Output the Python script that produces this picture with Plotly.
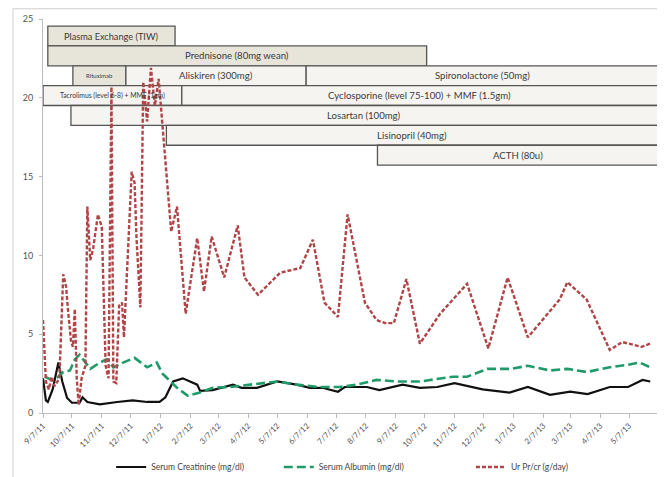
import pandas as pd
import plotly.graph_objects as go

# ---------------- data ----------------
creat_dates = ["2011-09-07", "2011-09-10", "2011-09-12", "2011-09-17", "2011-09-23", "2011-09-27",
               "2011-10-02", "2011-10-07", "2011-10-15", "2011-10-18", "2011-10-23", "2011-11-05",
               "2011-11-23", "2011-12-09", "2011-12-24", "2012-01-06", "2012-01-12", "2012-01-20",
               "2012-01-30", "2012-02-06", "2012-02-14", "2012-02-17", "2012-03-01", "2012-03-22",
               "2012-03-31", "2012-04-16", "2012-05-07", "2012-05-27", "2012-06-10", "2012-06-23",
               "2012-07-09", "2012-07-16", "2012-08-08", "2012-08-21", "2012-09-14", "2012-10-02",
               "2012-10-20", "2012-11-07", "2012-12-06", "2013-01-03", "2013-01-22", "2013-02-14",
               "2013-03-07", "2013-03-25", "2013-04-17", "2013-05-06", "2013-05-21", "2013-05-29"]
creat_vals = [2.2, 0.8, 0.7, 1.5, 3.2, 2.0,
              0.95, 0.65, 0.65, 1.0, 0.7, 0.55,
              0.7, 0.8, 0.7, 0.7, 1.0, 2.0,
              2.2, 2.0, 1.8, 1.4, 1.45, 1.8,
              1.6, 1.6, 2.0, 1.8, 1.6, 1.6,
              1.35, 1.65, 1.65, 1.45, 1.8, 1.6,
              1.65, 1.9, 1.5, 1.3, 1.65, 1.15,
              1.35, 1.2, 1.65, 1.65, 2.1, 2.0]

alb_dates = ["2011-09-09", "2011-09-16", "2011-09-23", "2011-09-28", "2011-10-05", "2011-10-10",
             "2011-10-15", "2011-10-20", "2011-10-26", "2011-11-05", "2011-11-12", "2011-11-19",
             "2011-11-29", "2011-12-11", "2011-12-24", "2012-01-03", "2012-01-09", "2012-01-24",
             "2012-02-04", "2012-02-17", "2012-03-01", "2012-03-19", "2012-04-12", "2012-05-07",
             "2012-05-27", "2012-06-20", "2012-07-11", "2012-07-29", "2012-08-18", "2012-09-08",
             "2012-10-02", "2012-11-05", "2012-11-20", "2012-12-11", "2013-01-05", "2013-01-22",
             "2013-02-14", "2013-03-04", "2013-03-24", "2013-04-17", "2013-05-05", "2013-05-18",
             "2013-05-29"]
alb_vals = [2.3, 2.1, 2.3, 2.6, 2.7, 3.4,
            3.7, 3.3, 2.8, 3.2, 3.4, 2.9,
            3.2, 3.5, 2.9, 3.2, 2.5, 1.6,
            1.1, 1.3, 1.6, 1.65, 1.8, 2.0,
            1.8, 1.65, 1.65, 1.8, 2.1, 2.0,
            2.0, 2.3, 2.3, 2.8, 2.8, 3.0,
            2.7, 2.8, 2.6, 2.9, 3.05, 3.2,
            2.9]

upcr_dates = ["2011-09-07", "2011-09-10", "2011-09-13", "2011-09-16", "2011-09-19", "2011-09-24",
              "2011-09-28", "2011-10-01", "2011-10-03", "2011-10-06", "2011-10-08", "2011-10-10",
              "2011-10-12", "2011-10-14", "2011-10-17", "2011-10-21", "2011-10-23", "2011-10-26",
              "2011-10-29", "2011-11-03", "2011-11-07", "2011-11-11", "2011-11-14", "2011-11-17",
              "2011-11-19", "2011-11-22", "2011-11-25", "2011-11-28", "2011-11-30", "2011-12-08",
              "2011-12-11", "2011-12-13", "2011-12-17", "2011-12-20", "2011-12-24", "2011-12-28",
              "2012-01-01", "2012-01-05", "2012-01-18", "2012-01-24", "2012-02-02", "2012-02-14",
              "2012-02-21", "2012-02-29", "2012-03-13", "2012-03-27", "2012-04-03", "2012-04-17",
              "2012-05-10", "2012-05-31", "2012-06-13", "2012-06-25", "2012-07-09", "2012-07-19",
              "2012-08-06", "2012-08-18", "2012-08-27", "2012-09-05", "2012-09-18", "2012-10-02",
              "2012-10-23", "2012-11-20", "2012-12-12", "2013-01-01", "2013-01-22", "2013-02-24",
              "2013-03-04", "2013-03-24", "2013-04-17", "2013-04-30", "2013-05-20", "2013-05-29"]
upcr_vals = [5.9, 2.0, 1.5, 2.3, 1.7, 2.2,
             8.8, 8.0, 6.5, 4.6, 4.2, 6.6,
             2.2, 0.5, 2.2, 3.0, 13.1, 9.7,
             10.4, 12.6, 11.8, 3.0, 2.2, 20.7,
             2.0, 1.9, 6.8, 7.0, 4.8, 15.3,
             14.6, 11.1, 6.7, 21.0, 18.5, 21.9,
             19.5, 21.2, 11.5, 13.1, 6.3, 11.1,
             7.7, 11.2, 8.6, 11.9, 8.6, 7.5,
             8.9, 9.2, 11.0, 7.0, 6.1, 12.6,
             7.0, 5.9, 5.7, 5.7, 8.5, 4.4,
             6.3, 8.2, 4.1, 8.6, 4.8, 7.2,
             8.3, 7.2, 4.0, 4.5, 4.2, 4.4]

tick_labels = ["9/7/11", "10/7/11", "11/7/11", "12/7/11", "1/7/12", "2/7/12", "3/7/12",
               "4/7/12", "5/7/12", "6/7/12", "7/7/12", "8/7/12", "9/7/12", "10/7/12",
               "11/7/12", "12/7/12", "1/7/13", "2/7/13", "3/7/13", "4/7/13", "5/7/13"]

# treatment bars: label, start, end, row (0 = top row)
treat_names = ["Plasma Exchange (TIW)", "Prednisone (80mg wean)", "Rituximab",
               "Aliskiren (300mg)", "Spironolactone (50mg)",
               "Tacrolimus (level 6-8) + MMF (1gm)", "Cyclosporine (level 75-100) + MMF (1.5gm)",
               "Losartan (100mg)", "Lisinopril (40mg)", "ACTH (80u)"]
treat_start = ["2011-09-12", "2011-09-12", "2011-10-08", "2011-12-02", "2012-06-06",
               "2011-09-07", "2012-01-29", "2011-10-06", "2012-01-13", "2012-08-19"]
treat_end = ["2012-01-22", "2012-10-09", "2011-12-02", "2012-06-06", "2013-06-06",
             "2012-01-29", "2013-06-06", "2013-06-06", "2013-06-06", "2013-06-06"]
treat_row = [0, 1, 2, 2, 2, 3, 3, 4, 5, 6]

# ---------------- styling ----------------
ROW_TOP = 24.55
ROW_H = 1.26
dark_fill_rows = {0, 1}
label_sizes = {"Rituximab": 6, "Tacrolimus (level 6-8) + MMF (1gm)": 6.8,
               "Plasma Exchange (TIW)": 9.2}
FONT = "Lato, 'Open Sans', sans-serif"

fig = go.Figure()

fig.add_trace(go.Scatter(x=pd.to_datetime(creat_dates), y=creat_vals, mode="lines",
                         name="Serum Creatinine (mg/dl)",
                         line=dict(color="#111111", width=2.2), legend="legend"))
fig.add_trace(go.Scatter(x=pd.to_datetime(alb_dates), y=alb_vals, mode="lines",
                         name="Serum Albumin (mg/dl)",
                         line=dict(color="#1f9b6a", width=2.6, dash="9px,4px"), legend="legend2"))
fig.add_trace(go.Scatter(x=pd.to_datetime(upcr_dates), y=upcr_vals, mode="lines",
                         name="Ur Pr/cr (g/day)",
                         line=dict(color="#b04447", width=2.4, dash="4px,2px"), legend="legend3"))

for name, s, e, r in zip(treat_names, treat_start, treat_end, treat_row):
    y1 = ROW_TOP - r * ROW_H
    y0 = y1 - ROW_H
    fill = "#e7e4da" if (r in dark_fill_rows or name == "Rituximab") else "#f6f4f1"
    fig.add_shape(type="rect", xref="x", yref="y", x0=s, x1=e, y0=y0, y1=y1,
                  fillcolor=fill, line=dict(color="#555555", width=1.3), layer="below")
    ts, te = pd.Timestamp(s), pd.Timestamp(e)
    mid = ts + (te - ts) / 2
    fig.add_annotation(x=mid, y=(y0 + y1) / 2, xref="x", yref="y", text=name,
                       showarrow=False,
                       font=dict(family=FONT, size=label_sizes.get(name, 9.6), color="#3a3a3a"))

tick_dates = pd.to_datetime(tick_labels, format="%m/%d/%y")

# outer chart frame (left and top edges)
fig.add_shape(type="line", xref="paper", yref="paper", x0=-30/614, x1=-30/614, y0=1.026, y1=-0.2,
              line=dict(color="#cfcfcf", width=1))
fig.add_shape(type="line", xref="paper", yref="paper", x0=-30/614, x1=1.02, y0=1.026, y1=1.026,
              line=dict(color="#cfcfcf", width=1))

# the page body has an 8px margin, so the figure is sized to fill the 665x477 window
fig.update_layout(
    width=657, height=469,
    margin=dict(l=35, r=8, t=11, b=64, autoexpand=False),
    plot_bgcolor="white", paper_bgcolor="white",
    font=dict(family=FONT, color="#444444"),
    xaxis=dict(type="date", range=["2011-09-07", "2013-06-05"],
               tickvals=tick_dates, ticktext=tick_labels, tickangle=-45,
               tickfont=dict(size=8, color="#555555"),
               showline=True, linecolor="#bdbdbd", linewidth=1,
               ticks="outside", ticklen=4, tickcolor="#bdbdbd",
               showgrid=False, zeroline=False, automargin=False),
    yaxis=dict(range=[0, 25], tickvals=[0, 5, 10, 15, 20, 25],
               tickfont=dict(size=9, color="#555555"), ticklabelstandoff=4,
               showline=True, linecolor="#bdbdbd", linewidth=1,
               ticks="outside", ticklen=3, tickcolor="#bdbdbd",
               showgrid=False, zeroline=False, automargin=False),
    showlegend=True,
    legend=dict(x=0.111, y=-0.137, xanchor="left", yanchor="middle",
                font=dict(size=8.5, color="#444444"), bgcolor="rgba(0,0,0,0)"),
    legend2=dict(x=0.384, y=-0.137, xanchor="left", yanchor="middle",
                 font=dict(size=8.5, color="#444444"), bgcolor="rgba(0,0,0,0)"),
    legend3=dict(x=0.697, y=-0.137, xanchor="left", yanchor="middle",
                 font=dict(size=8.5, color="#444444"), bgcolor="rgba(0,0,0,0)"),
)

fig.write_html("out.html")
